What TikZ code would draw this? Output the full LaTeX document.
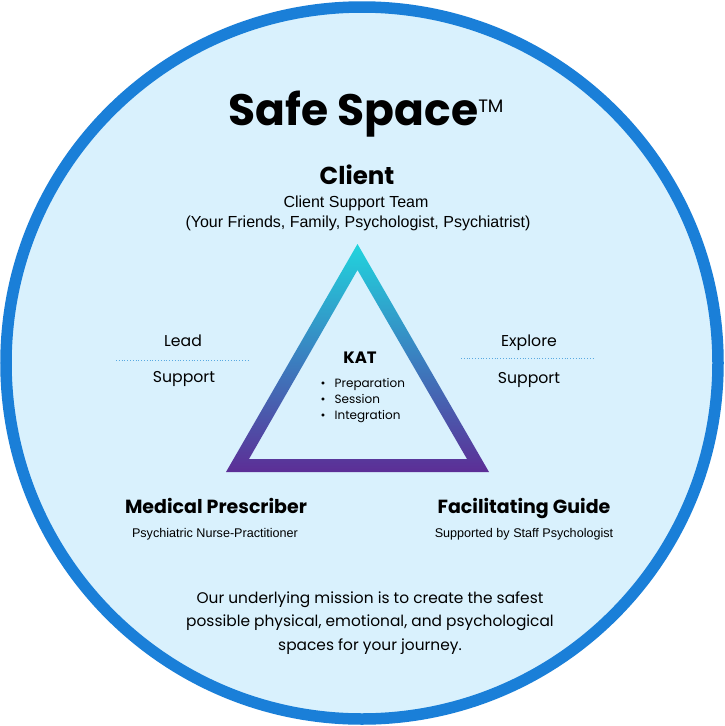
\documentclass[tikz,border=0pt]{standalone}
\usepackage{fontspec}
\setmainfont{Poppins}
\newfontfamily\arialf{Liberation Sans}
\definecolor{bgfill}{RGB}{217,241,253}
\definecolor{ring}{RGB}{26,127,216}
\definecolor{tritop}{RGB}{33,212,221}
\definecolor{trimid}{RGB}{58,128,192}
\definecolor{tribot}{RGB}{92,46,150}
\definecolor{dotline}{RGB}{90,170,225}
\begin{document}
\begin{tikzpicture}[x=1pt,y=-1pt,
  geo/.style={font=\fontsize{15.7}{18}\selectfont, text=black, inner sep=0pt, anchor=base},
  ar/.style={font=\arialf\fontsize{16}{19}\selectfont, text=black, inner sep=0pt, anchor=base},
  small/.style={font=\arialf\fontsize{12.6}{15}\selectfont, text=black, inner sep=0pt, anchor=base},
  head/.style={font=\bfseries\fontsize{19}{23}\selectfont, text=black, inner sep=0pt, anchor=base},
  sep/.style={dotline, line width=0.8pt, dotted}]
\useasboundingbox (0,0) rectangle (724,726);
\fill[white] (0,0) rectangle (724,726);
\draw[ring, fill=bgfill, line width=11.5pt] (362,363) circle (356);
% triangle
\shade[top color=tritop, bottom color=tribot, middle color=trimid, even odd rule]
  (357.5,244) -- (489,472) -- (226,472) -- cycle
  (357.5,270) -- (467,459) -- (249,459) -- cycle;
% title
\node[inner sep=0pt, anchor=base, font=\bfseries\fontsize{44}{48}\selectfont] (title) at (366,125) {Safe Space\raisebox{13pt}{\fontsize{18}{18}\selectfont\mdseries TM}};
\node[head, font=\bfseries\fontsize{24.5}{28}\selectfont] (client) at (357,184) {Client};
\node[ar] (cst) at (356,207) {Client Support Team};
\node[ar] (fam) at (358,227) {(Your Friends, Family, Psychologist, Psychiatrist)};
% side labels
\node[geo] (lead) at (183,346) {Lead};
\node[geo] (supl) at (184,382) {Support};
\coordinate (ll1) at (116,360);
\coordinate (ll2) at (249,360);
\draw[sep] (ll1) -- (ll2);
\node[geo] (expl) at (529,346) {Explore};
\node[geo] (supr) at (529,383) {Support};
\coordinate (rl1) at (461,358);
\coordinate (rl2) at (595,358);
\draw[sep] (rl1) -- (rl2);
% KAT
\node[inner sep=0pt, anchor=base, font=\bfseries\fontsize{16.5}{19}\selectfont] (kat) at (360,363) {KAT};
\node[inner sep=0pt, anchor=base west, font=\fontsize{12}{16.2}\selectfont, align=left] (list) at (320.5,419.5)
 {\textbullet\hspace{9pt}Preparation\\ \textbullet\hspace{9pt}Session\\ \textbullet\hspace{9pt}Integration};
% bottom roles
\node[head] (med) at (216,513) {Medical Prescriber};
\node[small] (psy) at (215,537) {Psychiatric Nurse-Practitioner};
\node[head] (fac) at (524,513) {Facilitating Guide};
\node[small] (sup) at (524,537) {Supported by Staff Psychologist};
% mission
\node[inner sep=0pt, anchor=base, text=black, align=center, font=\fontsize{15.4}{23.7}\selectfont] (mission) at (370,650.5)
 {Our underlying mission is to create the safest\\ possible physical, emotional, and psychological\\ spaces for your journey.};
\end{tikzpicture}
\end{document}
